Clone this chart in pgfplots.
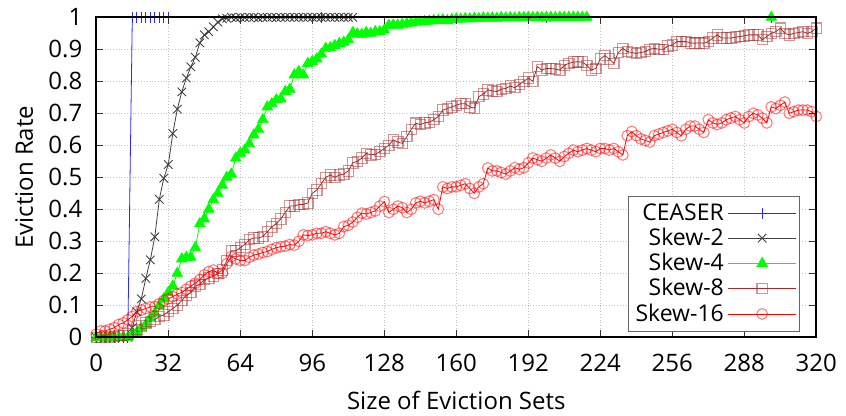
\documentclass[border=0pt]{standalone}
\usepackage{fontspec}
\setmainfont{Open Sans}
\usepackage{pgfplots}
\usepackage{pgfplotstable}
\pgfplotsset{compat=1.18}
\pgfplotsset{
  layers/framefront/.define layer set={
    axis background,axis grid,pre main,main,axis ticks,axis lines,
    axis tick labels,axis descriptions,axis foreground
  }{/pgfplots/layers/standard},
}
\definecolor{skewbrown}{RGB}{165,42,42}
\definecolor{ceaserblue}{RGB}{40,40,255}

\pgfplotstableread{
x y
0 0
2 0
4 0
6 0
8 0
10 0
12 0
14 0
16 1
18 1
20 1
22 1
24 1
26 1
28 1
30 1
32 1
100 1
200 1
300 1
}\ceaser

\pgfplotstableread{
x y
0 0
2 0
4 0
6 0
8 0
10 0
12 0
14 0
16 0.03
18 0.08
20 0.12
22 0.184
24 0.242
26 0.314
28 0.431
30 0.497
32 0.54
34 0.637
36 0.713
38 0.767
40 0.81
42 0.845
44 0.875
46 0.92
48 0.945
50 0.955
52 0.97
54 0.985
56 0.995
58 0.997
60 1
62 0.998
64 1
66 0.999
68 1
70 1
72 0.998
74 1
76 1
78 1
80 0.999
82 1
84 1
86 1
88 1
90 1
92 1
94 1
96 1
98 1
100 1
102 1
104 1
106 1
108 1
110 1
112 1
114 1
200 1
}\skewtwo

\pgfplotstableread{
x y
0 0
2 0
4 0
6 0
8 0
10 0
12 0
14 0
16 0.01
18 0.015
20 0.03
22 0.04
24 0.06
26 0.075
28 0.1
30 0.12
32 0.14
34 0.16
36 0.2
38 0.245
40 0.25
42 0.25
44 0.28
46 0.355
48 0.37
50 0.4
52 0.43
54 0.45
56 0.475
58 0.5
60 0.51
62 0.56
64 0.575
66 0.585
68 0.605
70 0.632
72 0.65
74 0.68
76 0.72
78 0.73
80 0.742
82 0.745
84 0.768
86 0.775
88 0.82
90 0.83
92 0.82
94 0.856
96 0.862
98 0.87
100 0.885
102 0.903
104 0.905
106 0.912
108 0.918
110 0.922
112 0.93
114 0.952
116 0.948
118 0.947
120 0.952
122 0.95
124 0.955
126 0.955
128 0.96
130 0.975
132 0.976
134 0.975
136 0.978
138 0.98
140 0.982
142 0.985
144 0.985
146 0.987
148 0.988
150 0.99
152 0.99
154 0.992
156 0.99
158 0.993
160 0.995
162 0.994
164 0.996
166 0.995
168 0.997
170 0.996
172 0.998
174 0.997
176 0.998
178 0.997
180 0.999
182 0.998
184 0.999
186 0.998
188 0.999
190 0.999
192 1
194 0.999
196 1
198 0.999
200 1
202 1
204 0.999
206 1
208 1
210 1
212 1
214 1
216 1
218 1
300 1
}\skewfour

\pgfplotstableread{
x y
0 0
2 0
4 0.003
6 0
8 0.003
10 0.005
12 0.005
14 0.01
16 0.02
18 0.025
20 0.035
22 0.045
24 0.05
26 0.055
28 0.065
30 0.07
32 0.08
34 0.09
36 0.1
38 0.115
40 0.13
42 0.14
44 0.16
46 0.165
48 0.18
50 0.185
52 0.19
54 0.2
56 0.21
58 0.24
60 0.27
62 0.27
64 0.28
66 0.29
68 0.305
70 0.31
72 0.31
74 0.315
76 0.33
78 0.345
80 0.355
82 0.37
84 0.39
86 0.41
88 0.41
90 0.415
92 0.415
94 0.42
96 0.45
98 0.46
100 0.48
102 0.5
104 0.507
106 0.5
108 0.507
110 0.51
112 0.52
114 0.545
116 0.55
118 0.56
120 0.575
122 0.57
124 0.572
126 0.58
128 0.59
130 0.6
132 0.617
134 0.61
136 0.606
138 0.627
140 0.65
142 0.669
144 0.665
146 0.67
148 0.672
150 0.68
152 0.69
154 0.71
156 0.715
158 0.72
160 0.725
162 0.73
164 0.73
166 0.72
168 0.716
170 0.752
172 0.76
174 0.773
176 0.77
178 0.768
180 0.775
182 0.778
184 0.785
186 0.78
188 0.79
190 0.8
192 0.81
194 0.8
196 0.846
198 0.835
200 0.84
202 0.84
204 0.838
206 0.835
208 0.85
210 0.856
212 0.86
214 0.861
216 0.86
218 0.85
220 0.835
222 0.84
224 0.87
226 0.88
228 0.87
230 0.856
232 0.89
234 0.903
236 0.893
238 0.89
240 0.887
242 0.89
244 0.893
246 0.9
248 0.903
250 0.9
252 0.9
254 0.91
256 0.913
258 0.924
260 0.924
262 0.924
264 0.92
266 0.919
268 0.92
270 0.919
272 0.924
274 0.935
276 0.945
278 0.935
280 0.935
282 0.935
284 0.938
286 0.94
288 0.942
290 0.945
292 0.945
294 0.945
296 0.93
298 0.94
300 0.95
302 0.955
304 0.966
306 0.95
308 0.945
310 0.95
312 0.952
314 0.955
316 0.95
318 0.955
320 0.966
}\skeweight

\pgfplotstableread{
x y
0 0.01
2 0.02
4 0.02
6 0.025
8 0.03
10 0.04
12 0.045
14 0.055
16 0.065
18 0.08
20 0.085
22 0.09
24 0.095
26 0.096
28 0.105
30 0.115
32 0.12
34 0.127
36 0.135
38 0.14
40 0.15
42 0.16
44 0.169
46 0.18
48 0.195
50 0.205
52 0.21
54 0.2
56 0.2
58 0.23
60 0.252
62 0.245
64 0.24
66 0.24
68 0.25
70 0.257
72 0.26
74 0.265
76 0.268
78 0.275
80 0.28
82 0.283
84 0.285
86 0.29
88 0.288
90 0.3
92 0.32
94 0.318
96 0.32
98 0.325
100 0.325
102 0.33
104 0.325
106 0.32
108 0.325
110 0.346
112 0.35
114 0.36
116 0.375
118 0.388
120 0.385
122 0.39
124 0.395
126 0.41
128 0.424
130 0.39
132 0.4
134 0.41
136 0.405
138 0.39
140 0.4
142 0.42
144 0.425
146 0.42
148 0.425
150 0.43
152 0.4
154 0.47
156 0.465
158 0.47
160 0.47
162 0.475
164 0.48
166 0.465
168 0.45
170 0.47
172 0.48
174 0.529
176 0.52
178 0.52
180 0.515
182 0.51
184 0.52
186 0.53
188 0.525
190 0.53
192 0.545
194 0.56
196 0.555
198 0.55
200 0.56
202 0.57
204 0.56
206 0.55
208 0.565
210 0.575
212 0.585
214 0.58
216 0.585
218 0.59
220 0.585
222 0.58
224 0.59
226 0.59
228 0.585
230 0.59
232 0.58
234 0.57
236 0.63
238 0.643
240 0.63
242 0.62
244 0.615
246 0.61
248 0.63
250 0.635
252 0.64
254 0.645
256 0.65
258 0.64
260 0.63
262 0.65
264 0.66
266 0.66
268 0.65
270 0.64
272 0.68
274 0.67
276 0.665
278 0.67
280 0.68
282 0.685
284 0.69
286 0.68
288 0.67
290 0.69
292 0.7
294 0.695
296 0.685
298 0.67
300 0.72
302 0.715
304 0.725
306 0.735
308 0.7
310 0.705
312 0.71
314 0.71
316 0.71
318 0.705
320 0.69
}\skewsixteen

\begin{document}
\begin{tikzpicture}
\begin{axis}[
  set layers=framefront,
  scale only axis,
  width=360pt, height=160pt,
  xmin=0, xmax=320, ymin=0, ymax=1,
  xtick={0,32,64,96,128,160,192,224,256,288,320},
  ytick={0,0.1,0.2,0.3,0.4,0.5,0.6,0.7,0.8,0.9,1},
  yticklabels={0,0.1,0.2,0.3,0.4,0.5,0.6,0.7,0.8,0.9,1},
  tick align=inside,
  major tick length=3.5pt,
  tick style={black!80, line width=0.5pt},
  axis line style={black, line width=0.9pt},
  grid=major,
  grid style={densely dotted, black!25, line width=0.4pt},
  clip=false,
  /pgf/number format/assume math mode=true,
  tick label style={font=\fontsize{12}{14}\selectfont},
  xticklabel style={yshift=-5pt},
  yticklabel style={xshift=-3.5pt},
  label style={font=\fontsize{12}{14}\selectfont},
  xlabel={Size of Eviction Sets},
  ylabel={Eviction Rate},
  x label style={at={(axis description cs:0.5,-0.196)}, anchor=center},
  y label style={at={(axis description cs:-0.1,0.5)}, anchor=center},
  legend plot pos=right,
  legend cell align=right,
  legend style={at={(0.9775,0.0175)}, anchor=south east,
    draw=black!60, line width=0.5pt,
    font=\fontsize{11.5}{12}\selectfont,
    inner sep=1.5pt, row sep=-1.6pt},
  legend image code/.code={
    \draw[mark repeat=2,mark phase=2]
      plot coordinates {(0pt,0pt) (17pt,0pt) (34pt,0pt)};},
]
\addplot[ceaserblue, line width=0.4pt, mark=+, mark size=2.7pt,
  mark options={line width=0.5pt}] table {\ceaser};
\addlegendentry{CEASER}
\addplot[black!75, line width=0.4pt, mark=x, mark size=3pt,
  mark options={line width=0.45pt}] table {\skewtwo};
\addlegendentry{Skew-2}
\addplot[green, line width=0.4pt, mark=triangle*, mark size=3pt,
  mark options={fill=green}] table {\skewfour};
\addlegendentry{Skew-4}
\addplot[skewbrown, line width=0.4pt, mark=square, mark size=2.6pt,
  mark options={line width=0.55pt, draw opacity=0.5}] table {\skeweight};
\addlegendentry{Skew-8}
\addplot[red, line width=0.4pt, mark=o, mark size=2.7pt,
  mark options={line width=0.55pt, draw opacity=0.5}] table {\skewsixteen};
\addlegendentry{Skew-16}
\end{axis}
\pgfresetboundingbox
\path[use as bounding box] (-48.15pt,-39.35pt) rectangle (374.85pt,168.65pt);
\end{tikzpicture}
\end{document}
